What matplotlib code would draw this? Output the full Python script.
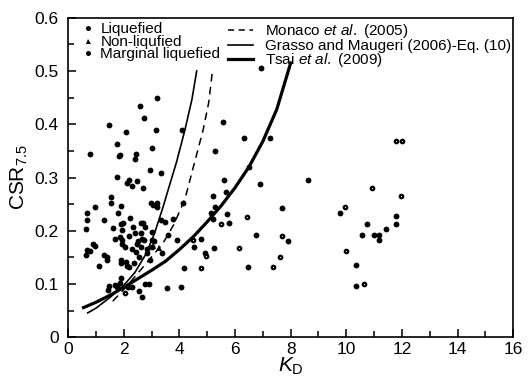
import matplotlib
matplotlib.use("Agg")
import matplotlib.pyplot as plt
from matplotlib.lines import Line2D
from matplotlib.ticker import MultipleLocator, FuncFormatter

plt.rcParams['font.family'] = ['Liberation Sans', 'DejaVu Sans']
plt.rcParams['mathtext.fontset'] = 'custom'
plt.rcParams['mathtext.rm'] = 'Liberation Sans'
plt.rcParams['mathtext.it'] = 'Liberation Sans:italic'

# ---- data ----
liq_x = [0.64, 0.66, 0.68, 0.64, 0.68, 0.78, 0.80, 0.90, 0.98, 0.96, 1.09, 1.28, 1.28, 1.38, 1.41,
         1.47, 1.52, 1.53, 1.45, 1.44, 1.62, 1.68, 1.74, 1.74, 1.79, 1.82, 1.86, 1.86, 1.88, 1.89,
         1.92, 1.88, 1.98, 1.95, 1.94, 1.91, 2.06, 2.10, 2.19, 2.28, 2.22, 2.07, 2.10, 2.19, 1.68,
         1.76, 1.86, 1.89, 2.16, 2.28, 2.37, 2.42, 2.41, 2.48, 2.34, 2.40, 2.46, 2.58, 2.70,
         2.72, 2.62, 2.70, 2.77, 2.63, 2.72, 2.82, 2.55, 2.67, 2.77, 2.91, 2.94, 3.03, 2.96, 3.06,
         3.01, 3.03, 3.00, 2.94, 3.15, 3.20, 3.18, 3.21, 3.33, 3.32, 3.36, 3.47, 3.60, 3.56, 3.78,
         3.90, 4.05, 4.09, 4.11, 4.15, 4.51, 4.79, 4.91, 5.21, 5.14, 5.21, 5.27, 5.25, 5.27,
         5.55, 5.61, 5.69, 5.72, 5.79, 6.33, 6.48, 6.51, 6.75, 6.89, 6.93, 7.25, 7.67, 7.91, 8.63,
         9.79, 10.35, 10.35, 10.55, 10.73, 11.00, 11.17, 11.17, 11.42, 11.80, 11.80,
         2.20, 2.50, 2.60, 2.85, 2.30, 2.55, 2.65, 3.10, 2.05, 2.45]
liq_y = [0.203, 0.220, 0.233, 0.154, 0.164, 0.345, 0.163, 0.175, 0.172, 0.245, 0.134, 0.220, 0.155,
         0.151, 0.145, 0.398, 0.264, 0.253, 0.096, 0.089, 0.206, 0.184, 0.362, 0.301, 0.233, 0.340,
         0.343, 0.189, 0.247, 0.213, 0.183, 0.145, 0.214, 0.201, 0.176, 0.139, 0.385, 0.290, 0.295,
         0.285, 0.224, 0.141, 0.134, 0.133, 0.098, 0.095, 0.103, 0.111, 0.095, 0.094, 0.139,
         0.345, 0.335, 0.293, 0.208, 0.195, 0.176, 0.434, 0.280, 0.412, 0.215, 0.214, 0.208, 0.170,
         0.183, 0.158, 0.087, 0.076, 0.100, 0.101, 0.314, 0.355, 0.253, 0.248, 0.197, 0.183, 0.170,
         0.145, 0.389, 0.449, 0.253, 0.245, 0.309, 0.220, 0.158, 0.217, 0.192, 0.093, 0.222, 0.183,
         0.095, 0.390, 0.253, 0.130, 0.170, 0.184, 0.158, 0.266, 0.233, 0.223, 0.350, 0.168,
         0.245, 0.405, 0.295, 0.272, 0.232, 0.215, 0.375, 0.132, 0.320, 0.193, 0.287, 0.506, 0.375,
         0.242, 0.181, 0.295, 0.234, 0.136, 0.097, 0.192, 0.213, 0.193, 0.192, 0.183, 0.203,
         0.227, 0.213,
         0.190, 0.180, 0.195, 0.165, 0.165, 0.150, 0.185, 0.180, 0.170, 0.160]

nonliq_x = [3.05, 3.25]
nonliq_y = [0.172, 0.168]

marg_x = [2.04, 4.49, 4.77, 4.97, 5.48, 6.15, 6.42, 7.37, 7.61, 7.67, 9.96, 9.98, 10.62, 10.91,
          11.80, 12.00, 11.97]
marg_y = [0.083, 0.183, 0.131, 0.153, 0.212, 0.168, 0.226, 0.132, 0.151, 0.190, 0.244, 0.163,
          0.100, 0.280, 0.369, 0.369, 0.266]

monaco_kd = [1.60, 2.00, 2.40, 2.90, 3.40, 3.80, 4.20, 4.50, 4.85, 5.05, 5.18]
monaco_csr = [0.068, 0.090, 0.114, 0.145, 0.176, 0.212, 0.260, 0.320, 0.389, 0.440, 0.497]

grasso_kd = [0.70, 1.00, 1.50, 2.00, 2.40, 2.80, 3.10, 3.40, 3.60, 3.90, 4.20, 4.45, 4.62]
grasso_csr = [0.046, 0.055, 0.075, 0.098, 0.122, 0.157, 0.195, 0.243, 0.278, 0.330, 0.390, 0.447, 0.500]

tsai_kd = [0.55, 1.00, 1.50, 2.00, 2.50, 3.00, 3.50, 4.00, 4.50, 5.00, 5.50, 6.00, 6.50, 7.00, 7.50, 8.00]
tsai_csr = [0.056, 0.066, 0.079, 0.094, 0.110, 0.126, 0.143, 0.165, 0.189, 0.217, 0.247, 0.281,
            0.320, 0.368, 0.428, 0.515]

legend_markers = ['Liquefied', 'Non-liqufied', 'Marginal liquefied']
legend_lines = [r'Monaco $\it{et\ al.}$ (2005)', 'Grasso and Maugeri (2006)-Eq. (10)',
                r'Tsai $\it{et\ al.}$ (2009)']

fig = plt.figure(figsize=(5.29, 3.83), dpi=100)
ax = fig.add_axes([0.129, 0.119, 0.841, 0.835])

ax.plot(liq_x, liq_y, 'o', color='black', ms=4.2, mew=0, zorder=3)
ax.plot(nonliq_x, nonliq_y, '^', color='black', ms=4.4, mew=0, zorder=3)
ax.plot(marg_x, marg_y, 'o', mfc='white', mec='black', ms=2.5, mew=1.6, zorder=3)

ax.plot(monaco_kd, monaco_csr, color='black', lw=1.1, dashes=(5, 3.5))
ax.plot(grasso_kd, grasso_csr, color='black', lw=1.2)
ax.plot(tsai_kd, tsai_csr, color='black', lw=2.3)

ax.set_xlim(0, 16)
ax.set_ylim(0, 0.6)
ax.xaxis.set_major_locator(MultipleLocator(2))
ax.xaxis.set_minor_locator(MultipleLocator(1))
ax.yaxis.set_major_locator(MultipleLocator(0.1))
ax.yaxis.set_minor_locator(MultipleLocator(0.05))
ax.yaxis.set_major_formatter(FuncFormatter(lambda v, p: '0' if abs(v) < 1e-9 else f'{v:.1f}'))
ax.tick_params(which='both', direction='in', top=False, right=False, labelsize=12.5)
ax.tick_params(axis='x', which='major', pad=3.5)
ax.tick_params(axis='y', which='major', pad=7)
ax.tick_params(which='major', length=6, width=1.1)
ax.tick_params(which='minor', length=4, width=1.1)
for s in ax.spines.values():
    s.set_linewidth(1.2)

ax.set_xlabel(r'$K_{\rm D}$', fontsize=15, labelpad=-1)
ax.set_ylabel(r'CSR$_{7.5}$', fontsize=15, labelpad=3)

mh = [Line2D([], [], ls='none', marker='o', color='black', ms=3.6, mew=0),
      Line2D([], [], ls='none', marker='^', color='black', ms=3.6, mew=0),
      Line2D([], [], ls='none', marker='o', color='black', ms=3.6, mew=0)]
lh = [Line2D([], [], color='black', lw=1.1, dashes=(4, 3)),
      Line2D([], [], color='black', lw=1.2),
      Line2D([], [], color='black', lw=2.3)]

leg1 = ax.legend(mh, legend_markers, loc='upper left', bbox_to_anchor=(0.031, 0.985),
                 frameon=False, fontsize=11, handlelength=0.8, handletextpad=0.4,
                 labelspacing=-0.1, borderpad=0, borderaxespad=0)
ax.add_artist(leg1)
ax.legend(lh, legend_lines, loc='upper left', bbox_to_anchor=(0.359, 0.985),
          frameon=False, fontsize=11, handlelength=1.63, handletextpad=0.78,
          labelspacing=-0.1, borderpad=0, borderaxespad=0)

fig.savefig('out.png', dpi=100)
